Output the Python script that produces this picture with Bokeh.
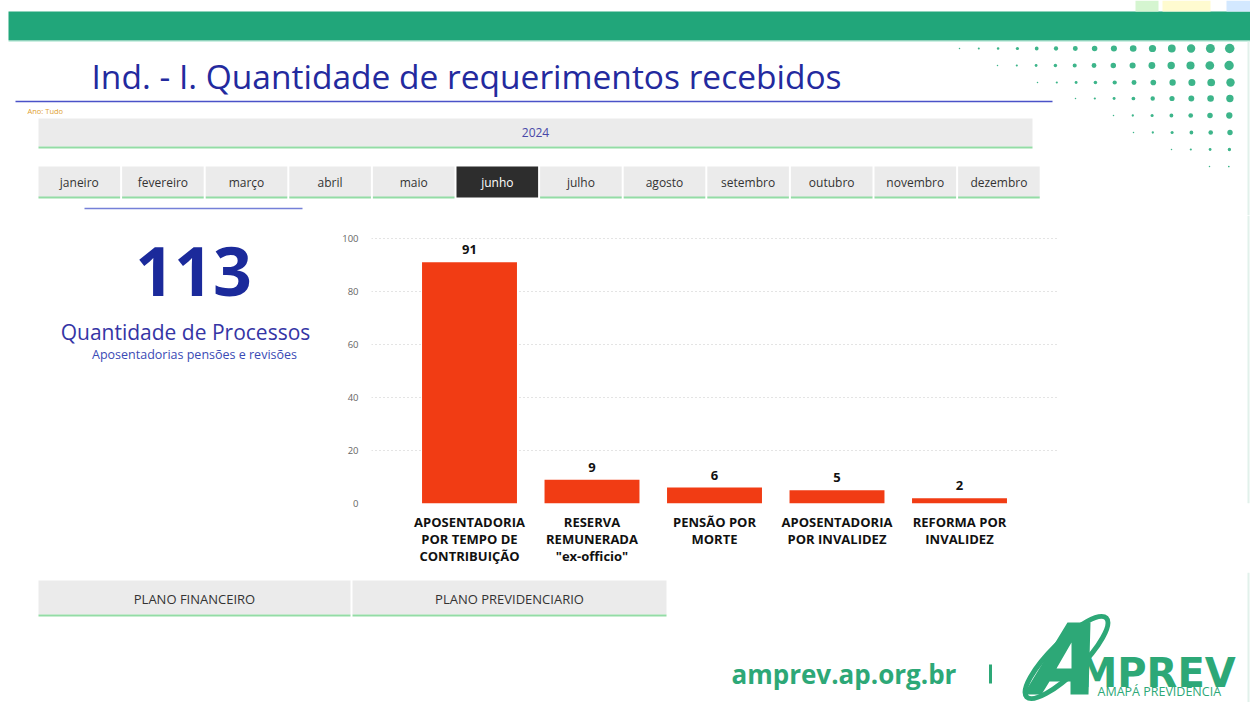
from bokeh.plotting import figure
from bokeh.models import Range1d, FactorRange, ColumnDataSource, LabelSet, FixedTicker, Label
from bokeh.layouts import column, row
from bokeh.embed import file_html
from bokeh.resources import INLINE
from bokeh.core.properties import value

# ---------------- data ----------------
categories = [
    "APOSENTADORIA\nPOR TEMPO DE\nCONTRIBUIÇÃO",
    "RESERVA\nREMUNERADA\n\"ex-officio\"",
    "PENSÃO POR\nMORTE",
    "APOSENTADORIA\nPOR INVALIDEZ",
    "REFORMA POR\nINVALIDEZ",
]
values = [91, 9, 6, 5, 2]
y_ticks = [0, 20, 40, 60, 80, 100]
months = ["janeiro", "fevereiro", "março", "abril", "maio", "junho",
          "julho", "agosto", "setembro", "outubro", "novembro", "dezembro"]
selected_month = "junho"
year_label = "2024"
plans = ["PLANO FINANCEIRO", "PLANO PREVIDENCIARIO"]
title_text = "Ind. - I. Quantidade de requerimentos recebidos"

FONT = "Open Sans"
GREEN = "#21A67A"
LOGO_GREEN = "#2DA877"
BAR = "#F13C14"
BTN = "#EBEBEB"
BTN_LINE = "#93DCA5"
EDGE = "#E2F1EB"

# page layout (pixels)
HDR_H = 215          # header block height
ROW_TOP, ROW_BOT = HDR_H, 572
BOT_B = 69           # room for the category labels
AXIS_TOP_PX = 238    # where the value 100 sits on the page
AXIS_ZERO_PX = ROW_BOT - BOT_B
Y_MAX = max(y_ticks)
Y_END = Y_MAX + (AXIS_TOP_PX - ROW_TOP) * Y_MAX / (AXIS_ZERO_PX - AXIS_TOP_PX)


def canvas(w, h, x0, x1, y0, y1, bottom=0):
    p = figure(width=w, height=h, x_range=Range1d(x0, x1), y_range=Range1d(y1, y0),
               output_backend="svg", toolbar_location=None,
               x_axis_type=None, y_axis_type=None, min_border=0, min_border_bottom=bottom)
    p.grid.visible = False
    p.outline_line_color = None
    p.background_fill_color = "white"
    p.border_fill_color = "white"
    return p


def txt(p, x, y, s, size, color="#333333", align="center", style="normal", font=FONT):
    p.text(x=[x], y=[y], text=[s], text_font=value(font), text_font_size=size,
           text_color=color, text_align=align, text_baseline="middle", text_font_style=style)


def lbl(p, x, y, s, size, color, align="center", style="normal"):
    p.add_layout(Label(x=x, y=y, text=s, text_font=FONT, text_font_size=size,
                       text_color=color, text_align=align, text_baseline="middle",
                       text_font_style=style))


# ---------------- header ----------------
hdr = canvas(1250, HDR_H, 0, 1250, 0, HDR_H)
hdr.quad(left=[8], right=[1250], top=[11], bottom=[40], color=GREEN, line_color=None)
hdr.segment(x0=[8], x1=[1250], y0=[41], y1=[41], line_color="#CDEFE2", line_width=1)
hdr.quad(left=[1135, 1162, 1226], right=[1158, 1210, 1250], top=[0, 0, 0], bottom=[11, 11, 11],
         color=["#D5F5D0", "#FFFBD0", "#D3E8FF"], line_color=None)
hdr.segment(x0=[1248], x1=[1248], y0=[41], y1=[HDR_H], line_color=EDGE, line_width=2)

# dotted decoration, top right
rows_y = [48, 65, 82, 98, 115, 132, 149, 166]
rows_start = [959, 997, 1037, 1075, 1113, 1133, 1171, 1209]
rows_max = [10, 10, 9, 8, 7, 6, 4, 2]
dx, dy, ds = [], [], []
for yy, xs, mx in zip(rows_y, rows_start, rows_max):
    n = int((1246 - xs) // 19.3) + 1
    for k in range(n):
        x = xs + k * 19.3
        frac = (x - xs) / max(1246 - xs, 1)
        dx.append(x)
        dy.append(yy)
        ds.append(1.5 + frac * (mx - 1.5))
hdr.scatter(x=dx, y=dy, size=ds, color="#3DB58A", line_color=None)

txt(hdr, 91, 75, title_text, "33.5px", color="#232A9E", align="left")
hdr.segment(x0=[15], x1=[1052], y0=[101], y1=[101], line_color="#4A52C8", line_width=1.3)
txt(hdr, 27, 110, "Ano: Tudo", "7.5px", color="#E0A030", align="left")

hdr.quad(left=[38], right=[1032], top=[118], bottom=[146], color=BTN, line_color=None)
hdr.segment(x0=[38], x1=[1032], y0=[147], y1=[147], line_color=BTN_LINE, line_width=2)
txt(hdr, 535, 132, year_label, "12px", color="#4848A8")

pitch = 83.6
for i, m in enumerate(months):
    left = 38 + i * pitch
    right = left + pitch - 2
    sel = m == selected_month
    hdr.quad(left=[left], right=[right], top=[166], bottom=[197],
             color="#2D2D2D" if sel else BTN, line_color=None)
    if not sel:
        hdr.segment(x0=[left], x1=[right], y0=[197], y1=[197], line_color=BTN_LINE, line_width=2)
    txt(hdr, (left + right) / 2, 182, m, "12px", color="white" if sel else "#333333")

hdr.segment(x0=[84], x1=[302], y0=[208], y1=[208], line_color="#7580D8", line_width=1.5)

# ---------------- left KPI ----------------
ROW_H = ROW_BOT - ROW_TOP
lft = canvas(338, ROW_H, 0, 338, ROW_TOP, AXIS_ZERO_PX, bottom=BOT_B)
lbl(lft, 193, 271, str(sum(values)), "68px", "#1B2A9B", style="bold")
lbl(lft, 185, 331, "Quantidade de Processos", "21px", "#3535A5")
lbl(lft, 194, 354, "Aposentadorias pensões e revisões", "12.5px", "#3A4AB5")

# ---------------- bar chart ----------------
src = ColumnDataSource(dict(cat=categories, val=values, lab=[str(v) for v in values]))
ch = figure(width=732, height=ROW_H, x_range=FactorRange(factors=categories, range_padding=0.12),
            y_range=Range1d(0, Y_END), output_backend="svg", toolbar_location=None,
            min_border_left=33, min_border_right=13, min_border_top=0, min_border_bottom=BOT_B)
ch.outline_line_color = None
ch.vbar(x="cat", top="val", width=0.775, source=src, color=BAR, line_color=None)
ch.add_layout(LabelSet(x="cat", y="val", text="lab", source=src, y_offset=8,
                       text_align="center", text_baseline="bottom",
                       text_font=value(FONT), text_font_size="13px",
                       text_font_style="bold", text_color="#111111"))
ch.xgrid.visible = False
ch.ygrid.grid_line_color = "#C8C8C8"
ch.ygrid.grid_line_dash = "1 3"
ch.yaxis.ticker = FixedTicker(ticks=y_ticks)
ch.yaxis.axis_line_color = None
ch.yaxis.major_tick_line_color = None
ch.yaxis.minor_tick_line_color = None
ch.yaxis.major_label_text_font = FONT
ch.yaxis.major_label_text_font_size = "9.5px"
ch.yaxis.major_label_text_color = "#666666"
ch.yaxis.major_label_standoff = 7
ch.xaxis.axis_line_color = None
ch.xaxis.major_tick_line_color = None
ch.xaxis.major_label_text_font = FONT
ch.xaxis.major_label_text_font_size = "13px"
ch.xaxis.major_label_text_font_style = "bold"
ch.xaxis.major_label_text_color = "#111111"
ch.xaxis.major_label_text_line_height = 0.97
ch.xaxis.major_label_standoff = 3
ch.xaxis.major_label_orientation = "horizontal"

rgt = canvas(180, ROW_H, 1070, 1250, ROW_TOP, AXIS_ZERO_PX, bottom=BOT_B)
rgt.segment(x0=[1248], x1=[1248], y0=[ROW_TOP], y1=[AXIS_ZERO_PX], line_color=EDGE, line_width=2)

# ---------------- bottom (page y 572..702) ----------------
bot = canvas(1250, 702 - ROW_BOT, 0, 1250, ROW_BOT, 702)
bot.segment(x0=[1248], x1=[1248], y0=[572], y1=[702], line_color=EDGE, line_width=2)
plan_l = [38, 352]
plan_r = [350, 666]
for pl, l, r in zip(plans, plan_l, plan_r):
    bot.quad(left=[l], right=[r], top=[580], bottom=[614], color=BTN, line_color=None)
    bot.segment(x0=[l], x1=[r], y0=[615], y1=[615], line_color=BTN_LINE, line_width=2)
    txt(bot, (l + r) / 2, 598, pl, "13px")

txt(bot, 731, 673, "amprev.ap.org.br", "26px", color=LOGO_GREEN, align="left", style="bold")
bot.segment(x0=[990], x1=[990], y0=[664], y1=[683], line_color=LOGO_GREEN, line_width=3)
bot.ellipse(x=[1066], y=[657], width=[112], height=[32], angle=[0.78],
            fill_color=None, line_color=LOGO_GREEN, line_width=5)
# stylised slanted "A" of the logo (drawn as a shape)
bot.multi_polygons(
    xs=[[[[1023, 1067, 1090, 1088, 1070, 1070, 1049, 1041], [1056, 1071, 1071]]]],
    ys=[[[[694, 622, 622, 694, 694, 681, 681, 694], [668, 642, 668]]]],
    fill_color=LOGO_GREEN, line_color=None)
txt(bot, 1077, 672, "MPREV", "40px", color=LOGO_GREEN, align="left", style="bold", font="DejaVu Sans")
txt(bot, 1097, 691, "AMAPÁ PREVIDÊNCIA", "12.5px", color=LOGO_GREEN, align="left")

layout = column(hdr, row(lft, ch, rgt, spacing=0), bot, spacing=0)
open("out.html", "w").write(file_html(layout, INLINE))
